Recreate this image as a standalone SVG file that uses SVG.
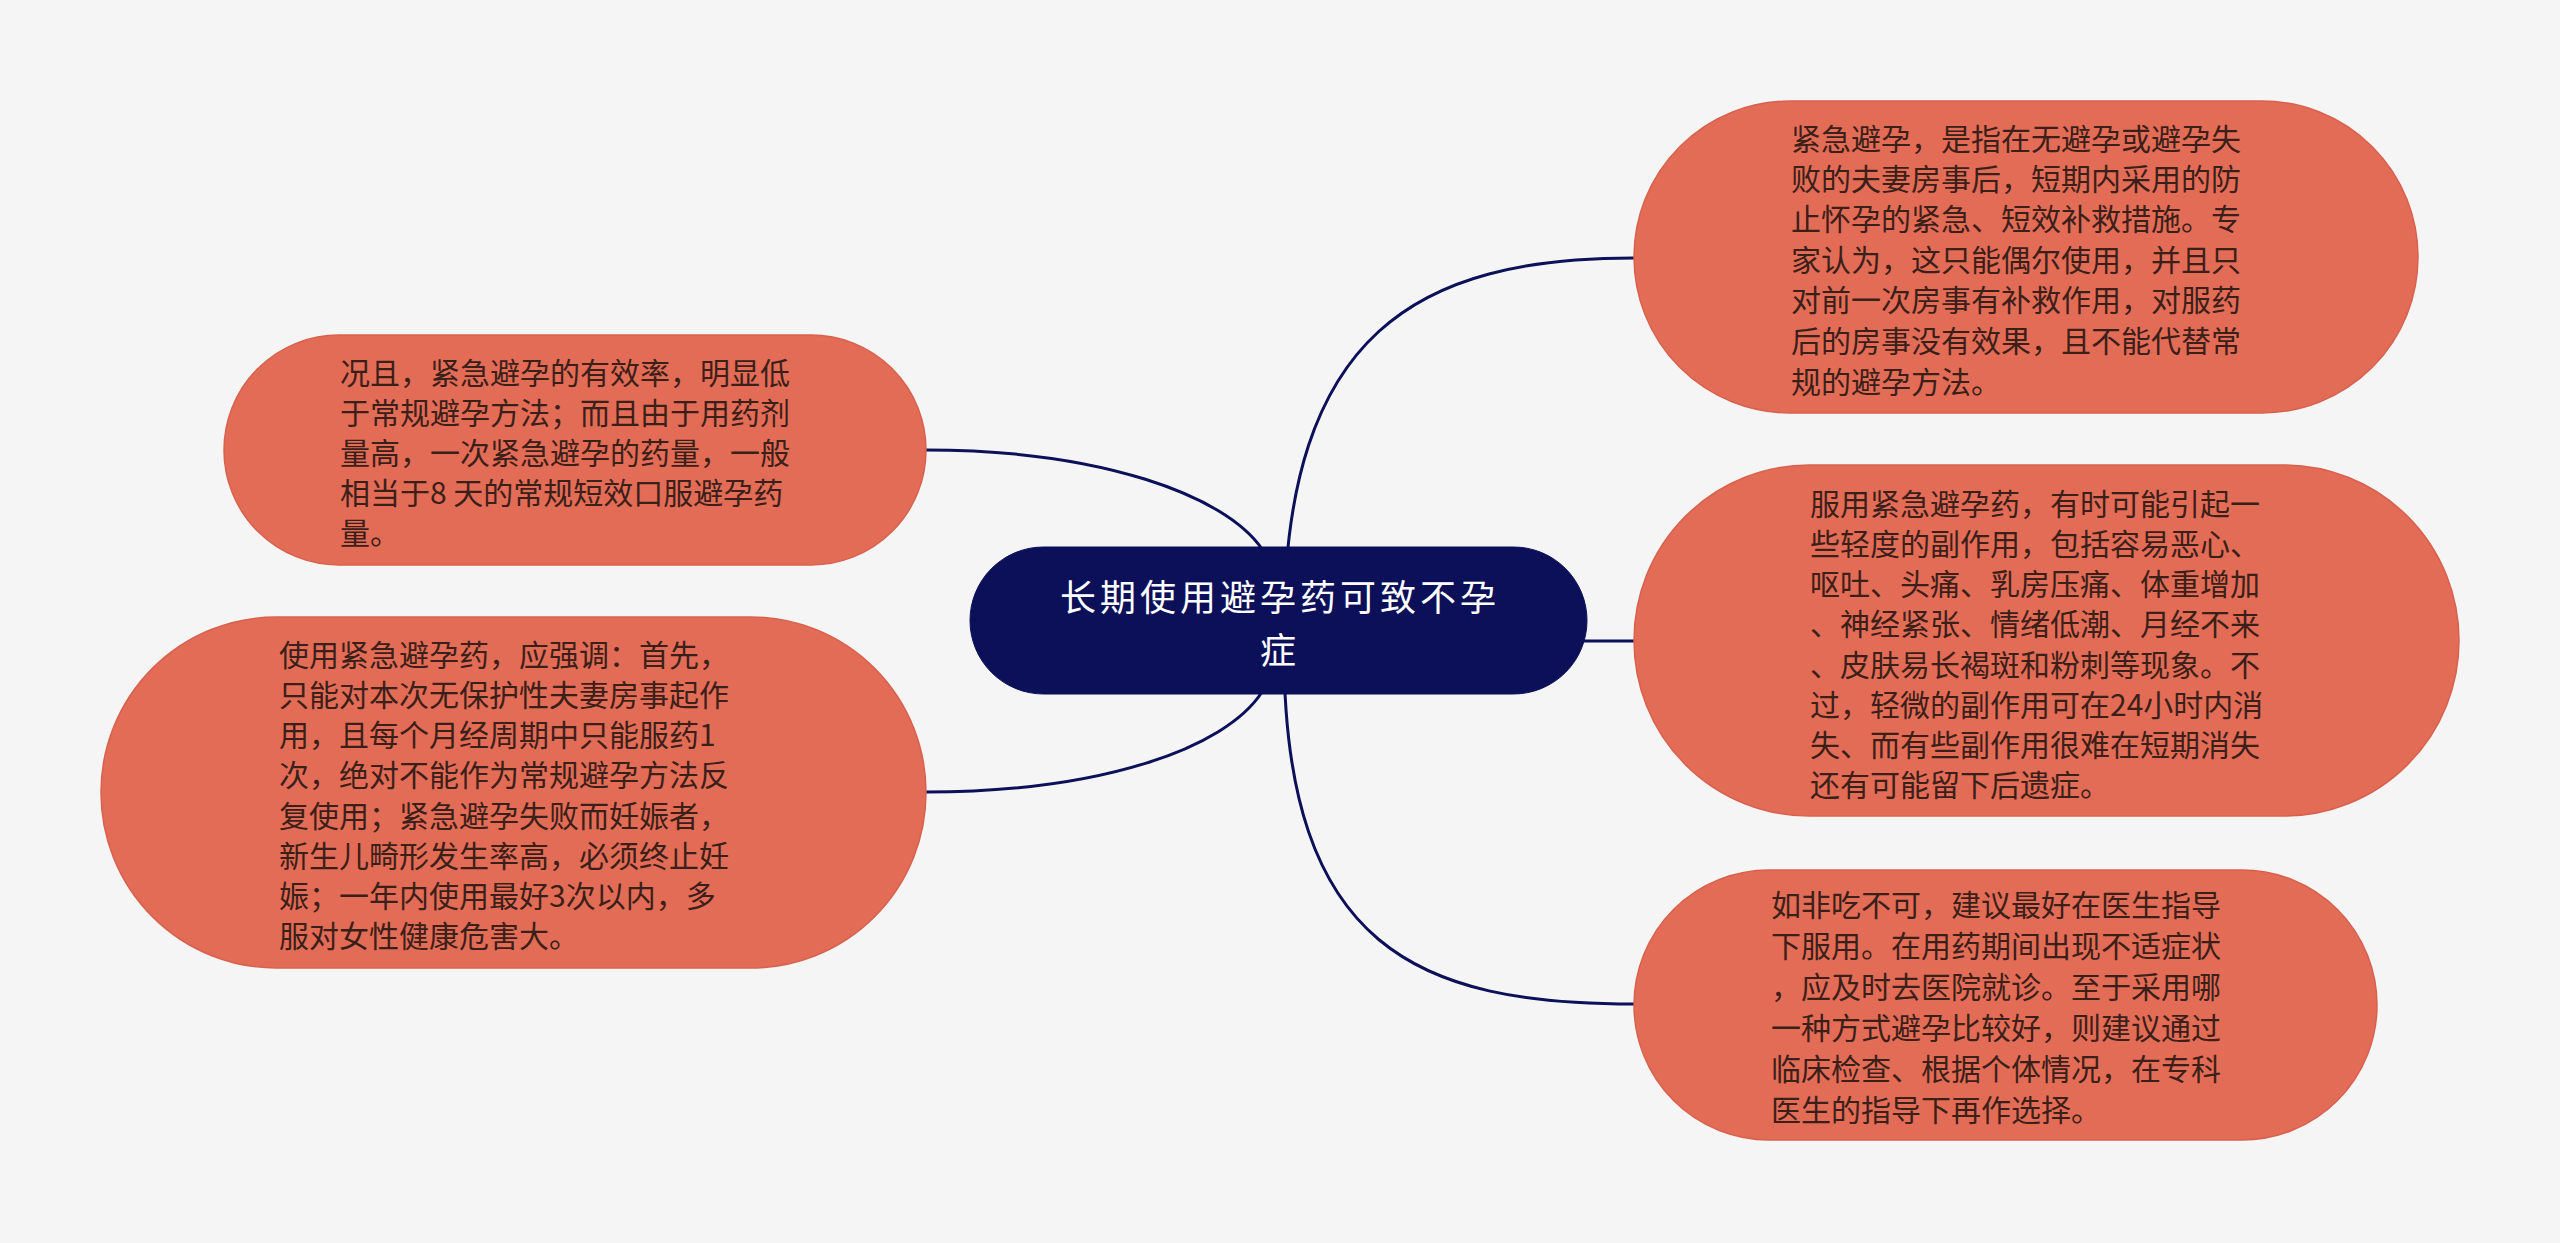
<svg xmlns="http://www.w3.org/2000/svg" width="2560" height="1243" viewBox="0 0 2560 1243">
<style>
.bg{fill:#f5f5f5}
.leaf{fill:#e36c57;stroke:#d8614d;stroke-width:1.5}
.root{fill:#0b1059;stroke:#0b1059}
.lt{font-family:"Noto Sans CJK SC","Noto Sans",sans-serif;font-size:30px;fill:#3b2019;dominant-baseline:central}
.rt{font-family:"Noto Sans CJK SC","Noto Sans",sans-serif;font-size:36px;letter-spacing:4px;fill:#ffffff;dominant-baseline:central;text-anchor:middle}
.edge{fill:none;stroke:#0b1059;stroke-width:3}
</style>
<rect class="bg" x="0" y="0" width="2560" height="1243"/>
<g id="connectors">
<path class="edge" d="M1284,630 C1284,330 1420,258 1634,258"/>
<path class="edge" d="M1560,641 L1634,641"/>
<path class="edge" d="M1284,650 C1284,950 1420,1004 1634,1004"/>
<path class="edge" d="M1266,556 L1262,549 C1225,495 1100,450 926,450"/>
<path class="edge" d="M1266,685 L1262,692 C1225,749 1100,792 926,792"/>
</g>
<g id="root">
<rect class="root" x="970" y="547" width="617" height="147" rx="73.5"/>
<text class="rt" x="1280" y="595">长期使用避孕药可致不孕</text>
<text class="rt" x="1280" y="648">症</text>
</g>
<g id="node1">
<rect class="leaf" x="1634" y="101" width="784" height="312" rx="156"/>
<text class="lt" x="1791" y="137">紧急避孕，是指在无避孕或避孕失</text>
<text class="lt" x="1791" y="177">败的夫妻房事后，短期内采用的防</text>
<text class="lt" x="1791" y="217">止怀孕的紧急、短效补救措施。专</text>
<text class="lt" x="1791" y="258">家认为，这只能偶尔使用，并且只</text>
<text class="lt" x="1791" y="298">对前一次房事有补救作用，对服药</text>
<text class="lt" x="1791" y="339">后的房事没有效果，且不能代替常</text>
<text class="lt" x="1791" y="380">规的避孕方法。</text>
</g>
<g id="node2">
<rect class="leaf" x="1634" y="465" width="825" height="351" rx="175.5"/>
<text class="lt" x="1810" y="502">服用紧急避孕药，有时可能引起一</text>
<text class="lt" x="1810" y="542">些轻度的副作用，包括容易恶心、</text>
<text class="lt" x="1810" y="582">呕吐、头痛、乳房压痛、体重增加</text>
<text class="lt" x="1810" y="622">、神经紧张、情绪低潮、月经不来</text>
<text class="lt" x="1810" y="663">、皮肤易长褐斑和粉刺等现象。不</text>
<text class="lt" x="1810" y="703">过，轻微的副作用可在24小时内消</text>
<text class="lt" x="1810" y="743">失、而有些副作用很难在短期消失</text>
<text class="lt" x="1810" y="783">还有可能留下后遗症。</text>
</g>
<g id="node3">
<rect class="leaf" x="1634" y="870" width="743" height="270" rx="135"/>
<text class="lt" x="1771" y="903">如非吃不可，建议最好在医生指导</text>
<text class="lt" x="1771" y="944">下服用。在用药期间出现不适症状</text>
<text class="lt" x="1771" y="985">，应及时去医院就诊。至于采用哪</text>
<text class="lt" x="1771" y="1026">一种方式避孕比较好，则建议通过</text>
<text class="lt" x="1771" y="1067">临床检查、根据个体情况，在专科</text>
<text class="lt" x="1771" y="1108">医生的指导下再作选择。</text>
</g>
<g id="node4">
<rect class="leaf" x="224" y="335" width="702" height="230" rx="115"/>
<text class="lt" x="340" y="371">况且，紧急避孕的有效率，明显低</text>
<text class="lt" x="340" y="411">于常规避孕方法；而且由于用药剂</text>
<text class="lt" x="340" y="451">量高，一次紧急避孕的药量，一般</text>
<text class="lt" x="340" y="491">相当于8 天的常规短效口服避孕药</text>
<text class="lt" x="340" y="531">量。</text>
</g>
<g id="node5">
<rect class="leaf" x="101" y="617" width="825" height="351" rx="175.5"/>
<text class="lt" x="279" y="653">使用紧急避孕药，应强调：首先，</text>
<text class="lt" x="279" y="693">只能对本次无保护性夫妻房事起作</text>
<text class="lt" x="279" y="733">用，且每个月经周期中只能服药1</text>
<text class="lt" x="279" y="773">次，绝对不能作为常规避孕方法反</text>
<text class="lt" x="279" y="814">复使用；紧急避孕失败而妊娠者，</text>
<text class="lt" x="279" y="854">新生儿畸形发生率高，必须终止妊</text>
<text class="lt" x="279" y="894">娠；一年内使用最好3次以内，多</text>
<text class="lt" x="279" y="934">服对女性健康危害大。</text>
</g>
</svg>
